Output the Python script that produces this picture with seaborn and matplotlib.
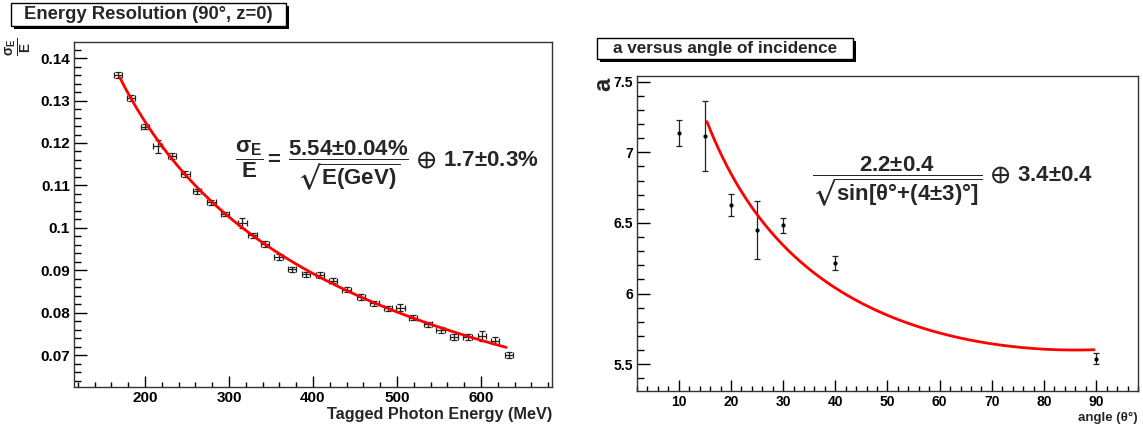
import numpy as np
import pandas as pd
import matplotlib
matplotlib.use("Agg")
import matplotlib.pyplot as plt
from matplotlib.patches import Rectangle
from matplotlib.ticker import MultipleLocator, FuncFormatter
import seaborn as sns

# --- left panel: energy resolution vs tagged photon energy ---
energy_mev = [168, 183, 200, 215, 232, 248, 262, 279, 295, 316, 328, 343, 359, 375, 392,
              408, 424, 440, 457, 473, 489, 504, 519, 537, 552, 568, 584, 601, 617, 633]
resolution = [0.1360, 0.1305, 0.1238, 0.1192, 0.1170, 0.1127, 0.1086, 0.1060, 0.1033, 0.1012,
              0.0983, 0.0963, 0.0932, 0.0902, 0.0891, 0.0889, 0.0875, 0.0854, 0.0837, 0.0822,
              0.0810, 0.0812, 0.0788, 0.0773, 0.0759, 0.0743, 0.0743, 0.0745, 0.0734, 0.0700]
resolution_err = [0.0007, 0.0007, 0.0006, 0.0015, 0.0007, 0.0006, 0.0006, 0.0005, 0.0005, 0.0012,
                  0.0006, 0.0007, 0.0007, 0.0006, 0.0006, 0.0006, 0.0006, 0.0006, 0.0006, 0.0006,
                  0.0006, 0.0008, 0.0006, 0.0006, 0.0007, 0.0007, 0.0007, 0.0011, 0.0008, 0.0007]
energy_err = 5.0
# fit: sigma/E = a/sqrt(E[GeV]) (+) b, quadrature sum
fit_a_stoch = 0.0554
fit_b_const = 0.017
fit_e_range = (170, 630)

# --- right panel: a versus angle of incidence ---
angle_deg = [10, 15, 20, 25, 30, 40, 90]
a_value = [7.135, 7.116, 6.628, 6.451, 6.482, 6.216, 5.539]
a_err = [0.09, 0.245, 0.076, 0.204, 0.05, 0.047, 0.037]
# fit: a = p0/sqrt(sin(theta + p1)) + p2
fit_p0 = 2.2
fit_p1 = 4.0
fit_p2 = 3.4
fit_angle_range = (15.4, 89.6)

sns.set_style("ticks")
plt.rcParams["font.family"] = ["Liberation Sans", "DejaVu Sans"]
plt.rcParams["font.weight"] = "bold"
plt.rcParams["mathtext.fontset"] = "custom"
plt.rcParams["mathtext.rm"] = "Liberation Sans:bold"
plt.rcParams["mathtext.it"] = "Liberation Sans:bold"
plt.rcParams["mathtext.bf"] = "Liberation Sans:bold"
plt.rcParams["mathtext.sf"] = "Liberation Sans:bold"
plt.rcParams["mathtext.fallback"] = "stixsans"

W, H = 1143, 429
fig = plt.figure(figsize=(W / 100, H / 100), dpi=100)


def px_axes(x0, y0, x1, y1):
    return fig.add_axes([x0 / W, 1 - y1 / H, (x1 - x0) / W, (y1 - y0) / H])


def title_box(x0, y0, x1, y1, text, size):
    sh = 3
    fig.patches.append(Rectangle(((x0 + sh) / W, 1 - (y1 + sh) / H), (x1 - x0) / W, (y1 - y0) / H,
                                 transform=fig.transFigure, facecolor="black", edgecolor="none"))
    fig.patches.append(Rectangle((x0 / W, 1 - y1 / H), (x1 - x0) / W, (y1 - y0) / H,
                                 transform=fig.transFigure, facecolor="white", edgecolor="black", lw=1))
    fig.text((x0 + x1) / 2 / W, 1 - (y0 + y1) / 2 / H, text, ha="center", va="center",
             fontsize=size, fontweight="bold")


def style_axes(ax, labelsize, xmaj, xmin, ymaj, ymin):
    for s in ax.spines.values():
        s.set_color("#333333")
        s.set_linewidth(1.0)
    ax.xaxis.set_major_locator(MultipleLocator(xmaj))
    ax.xaxis.set_minor_locator(MultipleLocator(xmin))
    ax.yaxis.set_major_locator(MultipleLocator(ymaj))
    ax.yaxis.set_minor_locator(MultipleLocator(ymin))
    fmt = FuncFormatter(lambda v, p: f"{v:g}")
    ax.xaxis.set_major_formatter(fmt)
    ax.yaxis.set_major_formatter(fmt)
    ax.tick_params(axis="both", which="both", direction="in", colors="black", width=1,
                   labelsize=labelsize, pad=3)
    ax.tick_params(axis="x", which="major", length=7.7)
    ax.tick_params(axis="x", which="minor", length=3.6)
    ax.tick_params(axis="y", which="major", length=9.4)
    ax.tick_params(axis="y", which="minor", length=5)
    for lab in ax.get_xticklabels() + ax.get_yticklabels():
        lab.set_fontweight("bold")


# ---------- left panel ----------
ax1 = px_axes(74, 42, 552, 387)
e_fit = np.linspace(*fit_e_range, 200)
fit1 = pd.DataFrame({"E": e_fit,
                     "res": np.sqrt((fit_a_stoch / np.sqrt(e_fit / 1000)) ** 2 + fit_b_const ** 2)})
sns.lineplot(data=fit1, x="E", y="res", color="red", lw=2, ax=ax1, zorder=3)
ax1.errorbar(energy_mev, resolution, xerr=energy_err, yerr=resolution_err, fmt="none",
             ecolor="#222222", elinewidth=0.9, capsize=2.2, capthick=0.9, zorder=2)
ax1.set_xlim(115.5, 684.5)
ax1.set_ylim(0.0625, 0.1438)
style_axes(ax1, 11, 100, 20, 0.01, 0.002)
ax1.set_xlabel("Tagged Photon Energy (MeV)", loc="right", fontsize=11.7, fontweight="bold", labelpad=1)
ax1.set_ylabel("")
ax1.text(0.655, 0.64,
         r"$\dfrac{\sigma_E}{E}{=}\,\dfrac{5.54{\pm}0.04\%}{\sqrt{E(GeV)}}\,\oplus\,1.7{\pm}0.3\%$",
         transform=ax1.transAxes, ha="center", va="center", fontsize=16)
fig.text(19 / W, 1 - 47 / H, r"$\frac{\sigma_E}{E}$", rotation=90, ha="center", va="center", fontsize=14)

# ---------- right panel ----------
ax2 = px_axes(637, 76, 1138, 391)
th_fit = np.linspace(*fit_angle_range, 200)
fit2 = pd.DataFrame({"theta": th_fit,
                     "a": fit_p0 / np.sqrt(np.sin(np.radians(th_fit + fit_p1))) + fit_p2})
sns.lineplot(data=fit2, x="theta", y="a", color="red", lw=2, ax=ax2, zorder=3)
ax2.errorbar(angle_deg, a_value, yerr=a_err, fmt="o", ms=2, color="black",
             ecolor="#222222", elinewidth=0.9, capsize=2.5, capthick=0.9, zorder=2)
ax2.set_xlim(2, 98)
ax2.set_ylim(5.31, 7.54)
style_axes(ax2, 10, 10, 2, 0.5, 0.1)
ax2.set_xlabel("angle (θ°)", loc="right", fontsize=9.5, fontweight="bold", labelpad=2)
ax2.set_ylabel("")
ax2.text(0.63, 0.665,
         r"$\dfrac{2.2{\pm}0.4}{\sqrt{sin[\theta°{+}(4{\pm}3)°]}}\,\oplus\,3.4{\pm}0.4$",
         transform=ax2.transAxes, ha="center", va="center", fontsize=16)
fig.text(604 / W, 1 - 84 / H, "a", rotation=90, ha="center", va="center", fontsize=17,
         fontweight="bold")

title_box(11, 3, 286, 26, "Energy Resolution (90°, z=0)", 13.3)
title_box(597, 38, 853, 59, "a versus angle of incidence", 12.3)

fig.savefig("out.png", dpi=100)
